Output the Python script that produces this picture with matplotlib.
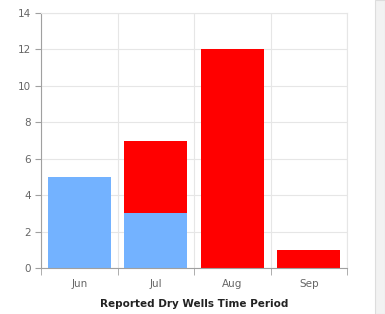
import numpy as np
import matplotlib.pyplot as plt
from matplotlib.patches import Rectangle

months = ["Jun", "Jul", "Aug", "Sep"]
blue_vals = [5, 3, 0, 0]
red_vals = [0, 4, 12, 1]

fig = plt.figure(figsize=(3.85, 3.14), dpi=100)
# light strip at the right edge, like in the screenshot
fig.patches.append(Rectangle((0.974, 0), 0.026, 1, transform=fig.transFigure,
                             facecolor="#f2f2f2", edgecolor="#dddddd", lw=0.8))
ax = fig.add_axes([0.1065, 0.1465, 0.7948, 0.812])

x = np.arange(len(months))
ax.bar(x, blue_vals, width=0.82, color="#73b2ff", zorder=2)
ax.bar(x, red_vals, width=0.82, bottom=blue_vals, color="#ff0000", zorder=2)

ax.set_xlim(-0.5, len(months) - 0.5)
ax.set_ylim(0, 14)
ax.set_yticks(range(0, 15, 2))
ax.set_xticks(x)
ax.set_xticklabels(months)
ax.set_xticks(np.arange(-0.5, len(months), 1), minor=True)

ax.grid(True, which="major", axis="y", color="#e6e6e6", lw=0.8, zorder=0)
ax.grid(True, which="minor", axis="x", color="#e6e6e6", lw=0.8, zorder=0)

for s in ["top", "right"]:
    ax.spines[s].set_color("#e6e6e6")
for s in ["left", "bottom"]:
    ax.spines[s].set_color("#a0a0a0")

ax.tick_params(axis="y", colors="#a0a0a0", labelcolor="#666666", labelsize=7.5, length=4)
ax.tick_params(axis="x", which="major", length=0, labelcolor="#666666", labelsize=7.5, pad=8)
ax.tick_params(axis="x", which="minor", length=5, color="#a0a0a0")

ax.set_xlabel("Reported Dry Wells Time Period", fontsize=7.5, fontweight="bold", color="#222222", labelpad=7)

plt.savefig("out.png", dpi=100)
